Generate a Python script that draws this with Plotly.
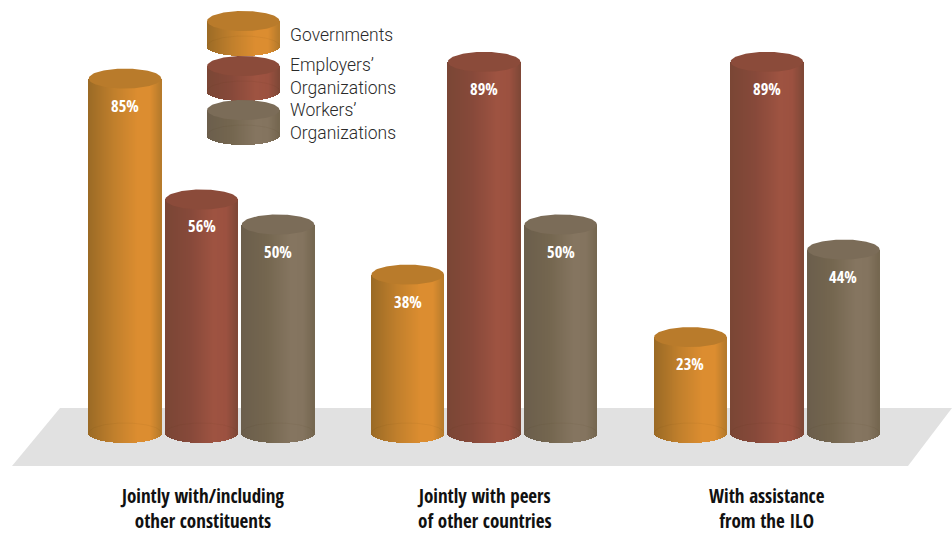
import numpy as np
import plotly.graph_objects as go

categories = ["Jointly with/including<br>other constituents",
              "Jointly with peers<br>of other countries",
              "With assistance<br>from the ILO"]
governments = [85, 38, 23]
employers = [56, 89, 89]
workers = [50, 50, 44]

series_names = ["Governments", "Employers’<br>Organizations", "Workers’<br>Organizations"]
series_values = [governments, employers, workers]

# left edge, highlight and right edge of each shaded body, plus the cap tone
palette = [
    {"stops": ["#9a6a25", "#c07f2c", "#dc8d30", "#dc8d30", "#b57a2b"], "cap": "#b97b2b"},
    {"stops": ["#7a4635", "#87493a", "#9e5341", "#9c5140", "#7f4837"], "cap": "#8b4b3a"},
    {"stops": ["#6b5e4c", "#74664f", "#857560", "#84745f", "#74664f"], "cap": "#7b6c58"},
]
stop_positions = [0.0, 0.35, 0.68, 0.85, 1.0]

GROUP_SPAN_PX = 282.7
PX_PER_PCT = 4.17
BASE_PX = 433
LEFT_GROUP_PX = 201.5
BAR_OFFSET = 76.5 / GROUP_SPAN_PX
CYL_WIDTH = 72.6 / GROUP_SPAN_PX
CAP_RADIUS = 10 / PX_PER_PCT
STRIPS = 73

LEGEND_X = 243.3
LEGEND_HEIGHT = 25 / PX_PER_PCT
legend_tops = [(BASE_PX - y) / PX_PER_PCT for y in (21, 66, 110)]

x_range = [-LEFT_GROUP_PX / GROUP_SPAN_PX, (952 - LEFT_GROUP_PX) / GROUP_SPAN_PX]
y_range = [(BASE_PX - 534) / PX_PER_PCT, BASE_PX / PX_PER_PCT]


def hex_rgb(h):
    return np.array([int(h[i:i + 2], 16) for i in (1, 3, 5)], dtype=float)


def shade(stops, t):
    rgb = [np.interp(t, stop_positions, [hex_rgb(s)[k] for s in stops]) for k in range(3)]
    return "rgb({:.0f},{:.0f},{:.0f})".format(*rgb)


def add_cylinder(fig, center, top, bottom, style):
    # Body: one narrow bar per strip, its foot following the lower arc
    edges = np.linspace(-1, 1, STRIPS + 1)
    mids = (edges[:-1] + edges[1:]) / 2
    feet = bottom - CAP_RADIUS * np.sqrt(1 - mids ** 2)
    fig.add_trace(go.Bar(
        x=center + mids * CYL_WIDTH / 2,
        y=top - feet,
        base=feet,
        width=CYL_WIDTH / STRIPS * 1.01,
        marker=dict(color=[shade(style["stops"], (m + 1) / 2) for m in mids], line=dict(width=0)),
        showlegend=False,
        hoverinfo="skip",
    ))
    theta = np.linspace(0, 2 * np.pi, 121)
    ex = center + np.cos(theta) * CYL_WIDTH / 2
    # Faint rim where the base ellipse shows through the body
    rim = theta <= np.pi
    fig.add_trace(go.Scatter(
        x=ex[rim], y=bottom + np.sin(theta[rim]) * CAP_RADIUS, mode="lines",
        line=dict(color="rgba(60,30,0,0.05)", width=1), showlegend=False, hoverinfo="skip",
    ))
    # Top face
    fig.add_trace(go.Scatter(
        x=ex, y=top + np.sin(theta) * CAP_RADIUS, mode="lines", fill="toself",
        fillcolor=style["cap"], line=dict(width=0, color=style["cap"]),
        showlegend=False, hoverinfo="skip",
    ))


fig = go.Figure()

for s, values in enumerate(series_values):
    for g, value in enumerate(values):
        add_cylinder(fig, g + (s - 1) * BAR_OFFSET, value, 0, palette[s])

legend_center = (LEGEND_X - LEFT_GROUP_PX) / GROUP_SPAN_PX
for s, top in enumerate(legend_tops):
    add_cylinder(fig, legend_center, top, top - LEGEND_HEIGHT, palette[s])

annotations = []
for s, values in enumerate(series_values):
    for g, value in enumerate(values):
        annotations.append(dict(
            x=g + (s - 1) * BAR_OFFSET, y=value, yshift=-26.5, text=f"{value}%", showarrow=False,
            font=dict(family="Open Sans Condensed", size=16.5, color="#ffffff", weight="bold"),
        ))

for g, label in enumerate(categories):
    annotations.append(dict(
        x=g, xref="x", y=(BASE_PX - 508.5) / PX_PER_PCT, yref="y", text=label, showarrow=False, align="center",
        yanchor="middle",
        font=dict(family="Open Sans Condensed", size=19, color="#111111", weight="bold"),
    ))

for name, ypx in zip(series_names, (35, 76, 121.5)):
    annotations.append(dict(
        x=287.5 / 952, xref="paper", xanchor="left", y=1 - ypx / 534, yref="paper", yanchor="middle",
        text=name, showarrow=False, align="left",
        font=dict(family="Roboto", size=17.5, color="#2a2a2a", weight=300),
    ))

fig.update_layout(
    width=952, height=534,
    margin=dict(l=0, r=0, t=0, b=0),
    paper_bgcolor="#ffffff", plot_bgcolor="#ffffff",
    barmode="overlay", bargap=0,
    showlegend=False,
    xaxis=dict(range=x_range, visible=False, fixedrange=True),
    yaxis=dict(range=y_range, visible=False, fixedrange=True),
    annotations=annotations,
    # Grey floor the cylinders stand on
    shapes=[dict(
        type="path", xref="paper", yref="paper", layer="below", line=dict(width=0),
        fillcolor="#e1e1e1",
        path=f"M {60 / 952} {1 - 408 / 534} L 1 {1 - 408 / 534} "
             f"L {908 / 952} {1 - 466 / 534} L {12 / 952} {1 - 466 / 534} Z",
    )],
)

fig.write_html("out.html", config={"displayModeBar": False})
